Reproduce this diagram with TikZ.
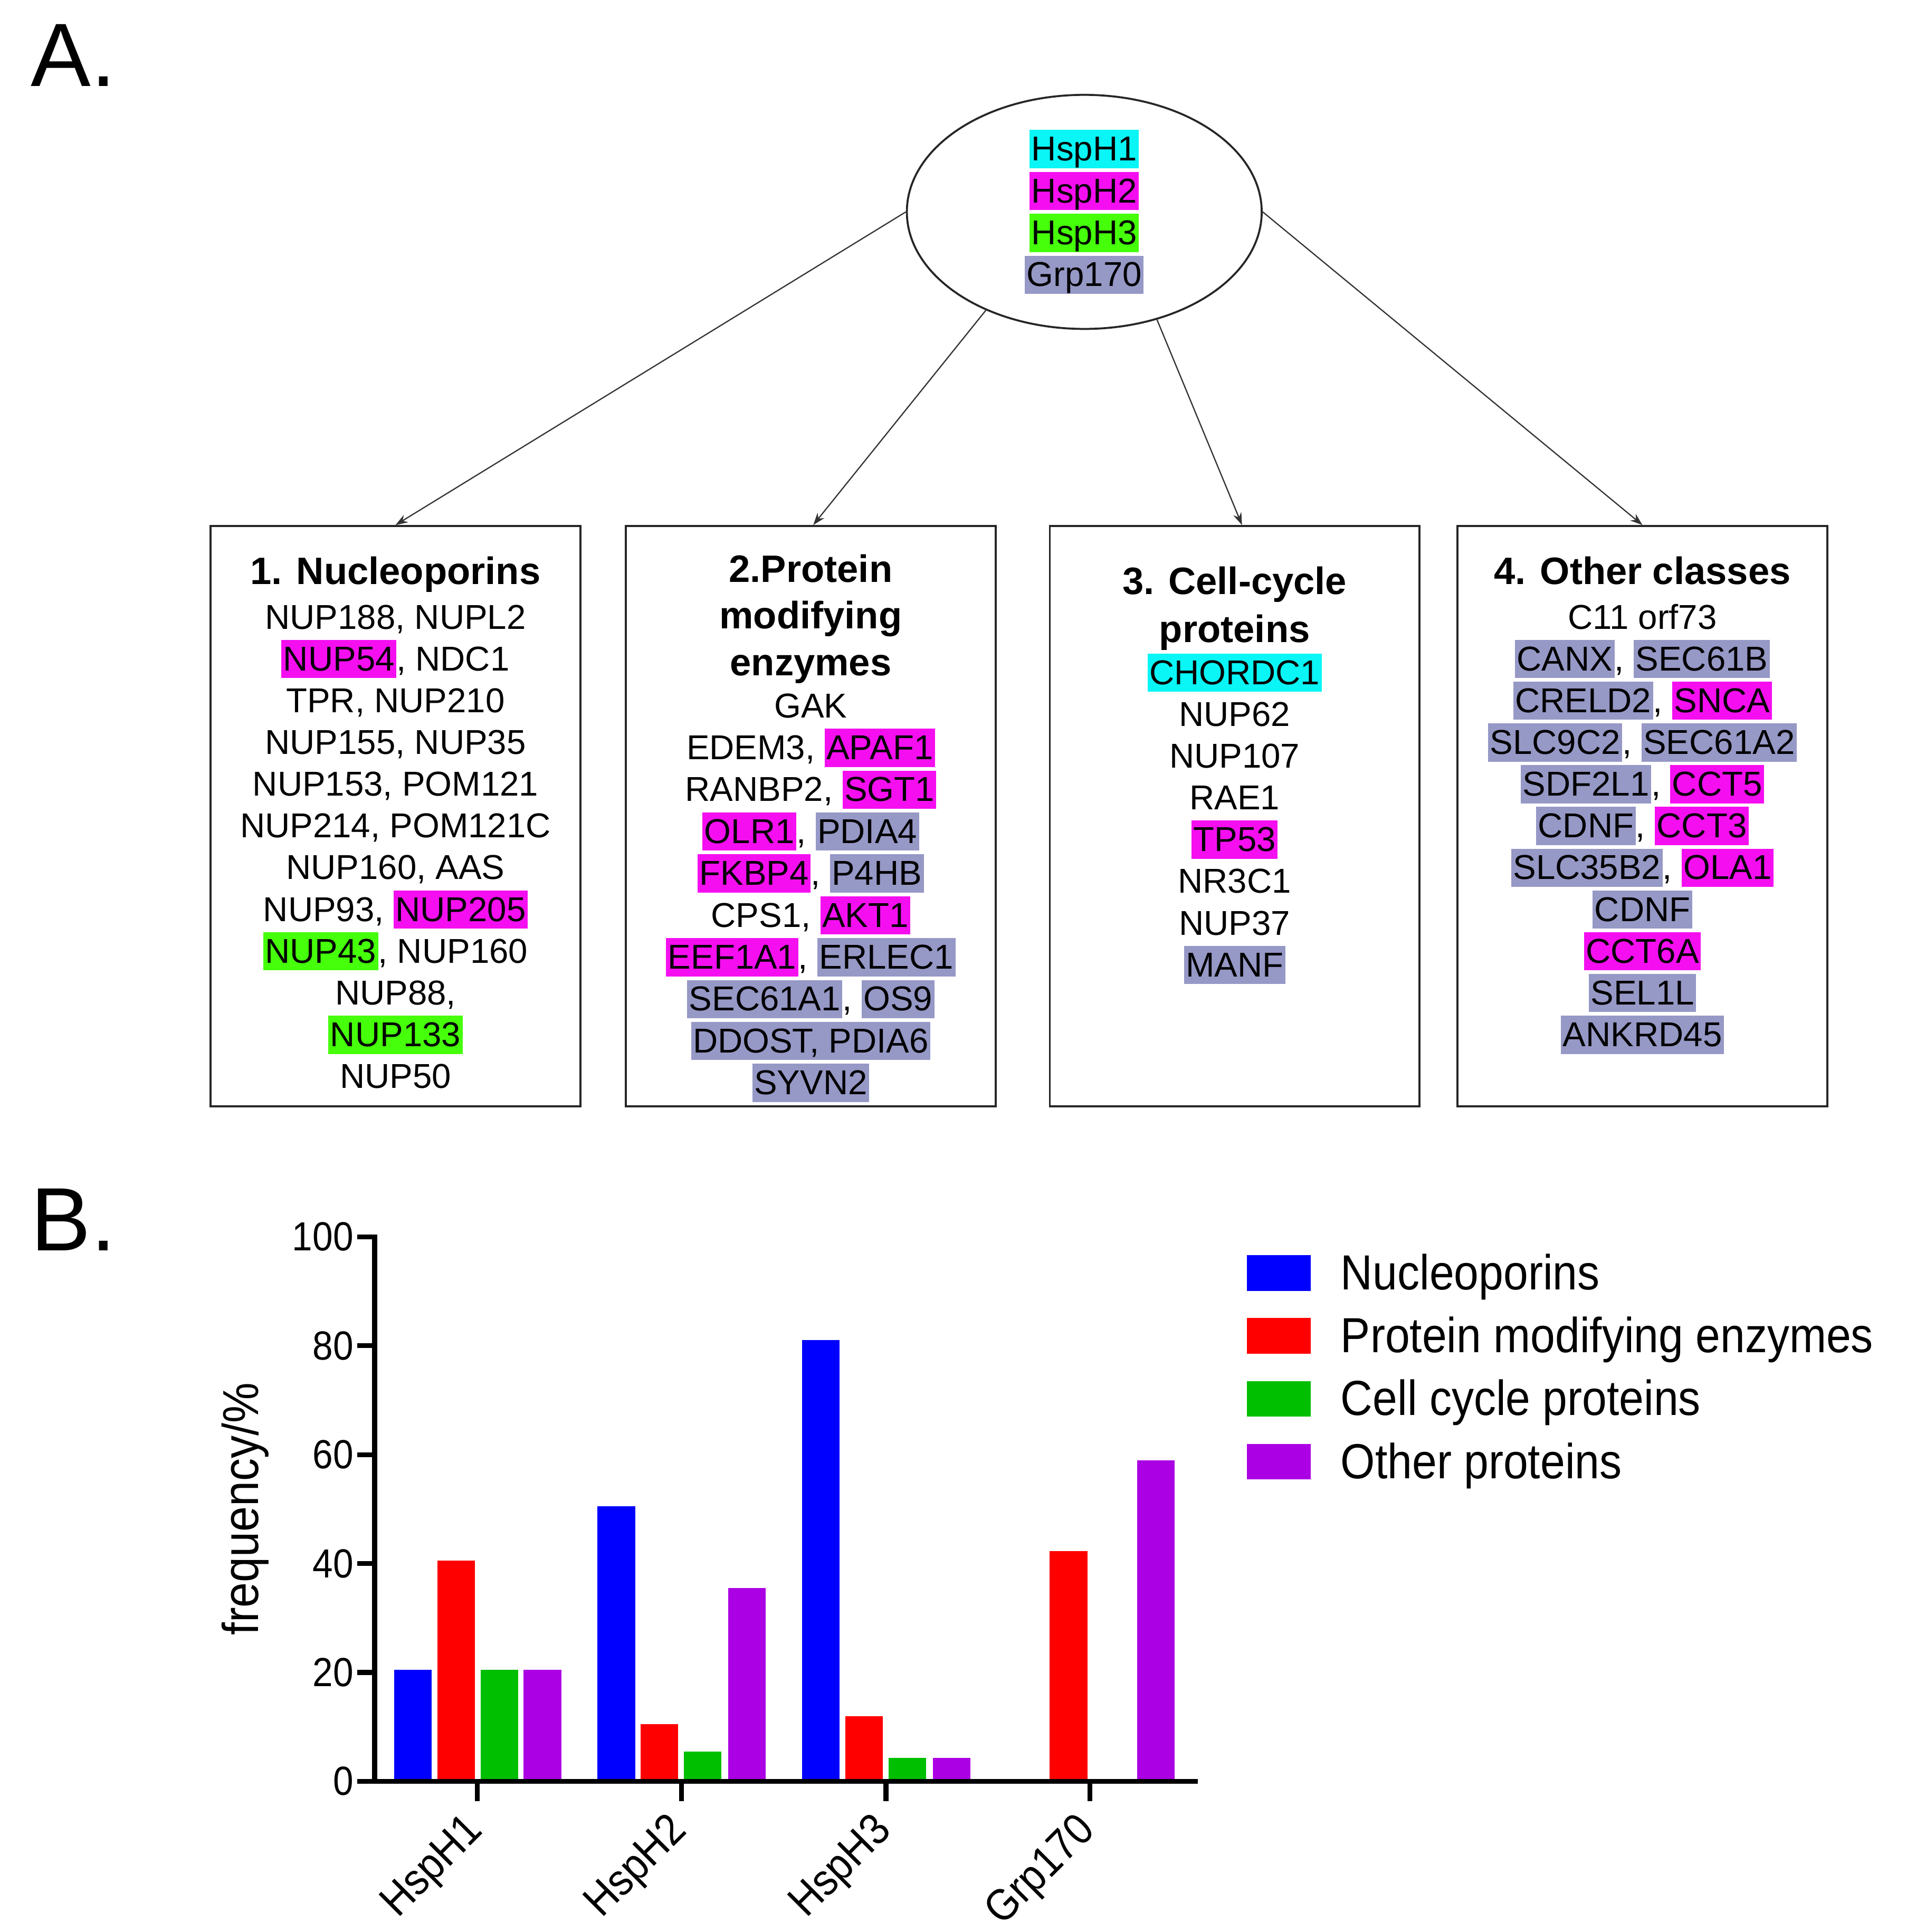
\documentclass[tikz,border=0pt]{standalone}
\usepackage{fontspec}
\setmainfont{Liberation Sans}
\newfontfamily\chartfont{Liberation Sans}[FakeStretch=0.9]
\usetikzlibrary{shapes.geometric,arrows.meta}

\definecolor{hlM}{RGB}{245,15,240}
\definecolor{hlC}{RGB}{10,245,245}
\definecolor{hlG}{RGB}{70,255,10}
\definecolor{hlS}{RGB}{150,152,198}
\definecolor{barB}{RGB}{0,0,255}
\definecolor{barR}{RGB}{255,0,0}
\definecolor{barG}{RGB}{0,190,0}
\definecolor{barP}{RGB}{172,0,228}

\newcommand{\lstrut}{\rule[-6pt]{0pt}{31pt}}
\newcommand{\hbx}[2]{{\setlength{\fboxsep}{0pt}\colorbox{#1}{\kern1.5pt\lstrut#2\kern1.5pt}}}
\newcommand{\hM}[1]{\hbx{hlM}{#1}}
\newcommand{\hC}[1]{\hbx{hlC}{#1}}
\newcommand{\hG}[1]{\hbx{hlG}{#1}}
\newcommand{\hS}[1]{\hbx{hlS}{#1}}

\tikzset{
  catbox/.style={draw=black!85, line width=1.6pt, minimum width=300pt, minimum height=471pt, inner sep=0pt},
  hub/.style={ellipse, draw=black!85, line width=1.6pt, minimum width=288pt, minimum height=190pt, inner sep=0pt, align=center, font=\fontsize{28}{34}\selectfont},
  boxline/.style={inner sep=0pt, anchor=center, font=\fontsize{28}{34}\selectfont},
  boxtitle/.style={inner sep=0pt, anchor=center, font=\fontsize{31}{36}\selectfont\bfseries},
  conn/.style={draw=black!80, line width=1pt, -{Stealth[length=10pt,width=7pt]}},
  axisline/.style={line width=4pt, line cap=rect},
  ticklab/.style={inner sep=0pt, anchor=east, font=\chartfont\fontsize{33}{38}\selectfont},
  xlab/.style={inner sep=0pt, anchor=east, rotate=45, font=\chartfont\fontsize{36}{40}\selectfont},
  legtext/.style={inner sep=0pt, anchor=base west, font=\chartfont\fontsize{40}{44}\selectfont},
  panel/.style={inner sep=0pt, anchor=base west, font=\fontsize{73}{80}\selectfont}
}

\begin{document}
\begin{tikzpicture}[x=1pt, y=-1pt]
\useasboundingbox (0,0) rectangle (1555,1568.3);

% panel letters
\node[panel] (pA) at (25,70) {A.};
\node[panel] (pB) at (25,1015) {B.};

% hub ellipse
\node[hub] (hub) at (880,172) {\hC{HspH1}\\\hM{HspH2}\\\hG{HspH3}\\\hS{Grp170}};

% category boxes
\node[catbox] (b1) at (321,662.5) {};
\node[catbox] (b2) at (658,662.5) {};
\node[catbox] (b3) at (1002,662.5) {};
\node[catbox] (b4) at (1333,662.5) {};

% connectors
\draw[conn] (hub.west) -- (b1.north);
\draw[conn] (hub.225) -- ([xshift=2pt]b2.north);
\draw[conn] (hub.304) -- ([xshift=6pt]b3.north);
\draw[conn] (hub.east) -- (b4.north);

% box 1
\node[boxtitle] (b1t) at (321,465) {\lstrut 1. Nucleoporins};
\foreach \txt [count=\i] in {{NUP188, NUPL2},{\hM{NUP54}, NDC1},{TPR, NUP210},{NUP155, NUP35},{NUP153, POM121},{NUP214, POM121C},{NUP160, AAS},{NUP93, \hM{NUP205}},{\hG{NUP43}, NUP160},{NUP88,},{\hG{NUP133}},{NUP50}}
  \node[boxline] (b1l\i) at (321,{501+33.9*(\i-1)}) {\lstrut\txt};

% box 2
\node[boxtitle] (b2t1) at (658,463) {\lstrut 2.Protein};
\node[boxtitle] (b2t2) at (658,501) {\lstrut modifying};
\node[boxtitle] (b2t3) at (658,539) {\lstrut enzymes};
\foreach \txt [count=\i] in {{GAK},{EDEM3, \hM{APAF1}},{RANBP2, \hM{SGT1}},{\hM{OLR1}, \hS{PDIA4}},{\hM{FKBP4}, \hS{P4HB}},{CPS1, \hM{AKT1}},{\hM{EEF1A1}, \hS{ERLEC1}},{\hS{SEC61A1}, \hS{OS9}},{\hS{DDOST, PDIA6}},{\hS{SYVN2}}}
  \node[boxline] (b2l\i) at (658,{573+34*(\i-1)}) {\lstrut\txt};

% box 3
\node[boxtitle] (b3t1) at (1002,473) {\lstrut 3. Cell-cycle};
\node[boxtitle] (b3t2) at (1002,512) {\lstrut proteins};
\foreach \txt [count=\i] in {{\hC{CHORDC1}},{NUP62},{NUP107},{RAE1},{\hM{TP53}},{NR3C1},{NUP37},{\hS{MANF}}}
  \node[boxline] (b3l\i) at (1002,{546+33.9*(\i-1)}) {\lstrut\txt};

% box 4
\node[boxtitle] (b4t) at (1333,465) {\lstrut 4. Other classes};
\foreach \txt [count=\i] in {{C11 orf73},{\hS{CANX}, \hS{SEC61B}},{\hS{CRELD2}, \hM{SNCA}},{\hS{SLC9C2}, \hS{SEC61A2}},{\hS{SDF2L1}, \hM{CCT5}},{\hS{CDNF}, \hM{CCT3}},{\hS{SLC35B2}, \hM{OLA1}},{\hS{CDNF}},{\hM{CCT6A}},{\hS{SEL1L}},{\hS{ANKRD45}}}
  \node[boxline] (b4l\i) at (1333,{501+33.9*(\i-1)}) {\lstrut\txt};

% bar chart
\foreach \x/\v/\c in {320/20.5/barB,355/40.5/barR,390/20.5/barG,425/20.5/barP,
                      485/50.5/barB,520/10.5/barR,555/5.5/barG,591/35.5/barP,
                      651/81/barB,686/12/barR,721/4.3/barG,757/4.3/barP,
                      852/42.3/barR,923/59/barP}
  \fill[\c] (\x,1446) rectangle ({\x+30.5},{1446-4.42*\v});

\draw[axisline] (304,1004) -- (304,1446);
\draw[axisline] (292,1446) -- (970,1446);
\foreach \v in {0,20,40,60,80,100}{
  \draw[axisline] (292,{1446-4.42*\v}) -- (304,{1446-4.42*\v});
  \node[ticklab] (yt\v) at (287,{1446-4.42*\v}) {\v};
}
\foreach \x/\lab [count=\i] in {387.5/HspH1,553/HspH2,719/HspH3,884.5/Grp170}{
  \draw[axisline] (\x,1446) -- (\x,1460);
  \node[xlab] (xl\i) at ({\x-0.5},1481) {\lab};
}
\node[rotate=90, inner sep=0pt, font=\chartfont\fontsize{41}{46}\selectfont] (ylab) at (199,1225) {frequency/\%};

% legend
\foreach \c/\lab [count=\i] in {barB/Nucleoporins,barR/Protein modifying enzymes,barG/Cell cycle proteins,barP/Other proteins}{
  \fill[\c] (1012,{1019+51*(\i-1)}) rectangle (1064,{1048+51*(\i-1)});
  \node[legtext] (lg\i) at (1088,{1047+51*(\i-1)}) {\lab};
}
\end{tikzpicture}
\end{document}
